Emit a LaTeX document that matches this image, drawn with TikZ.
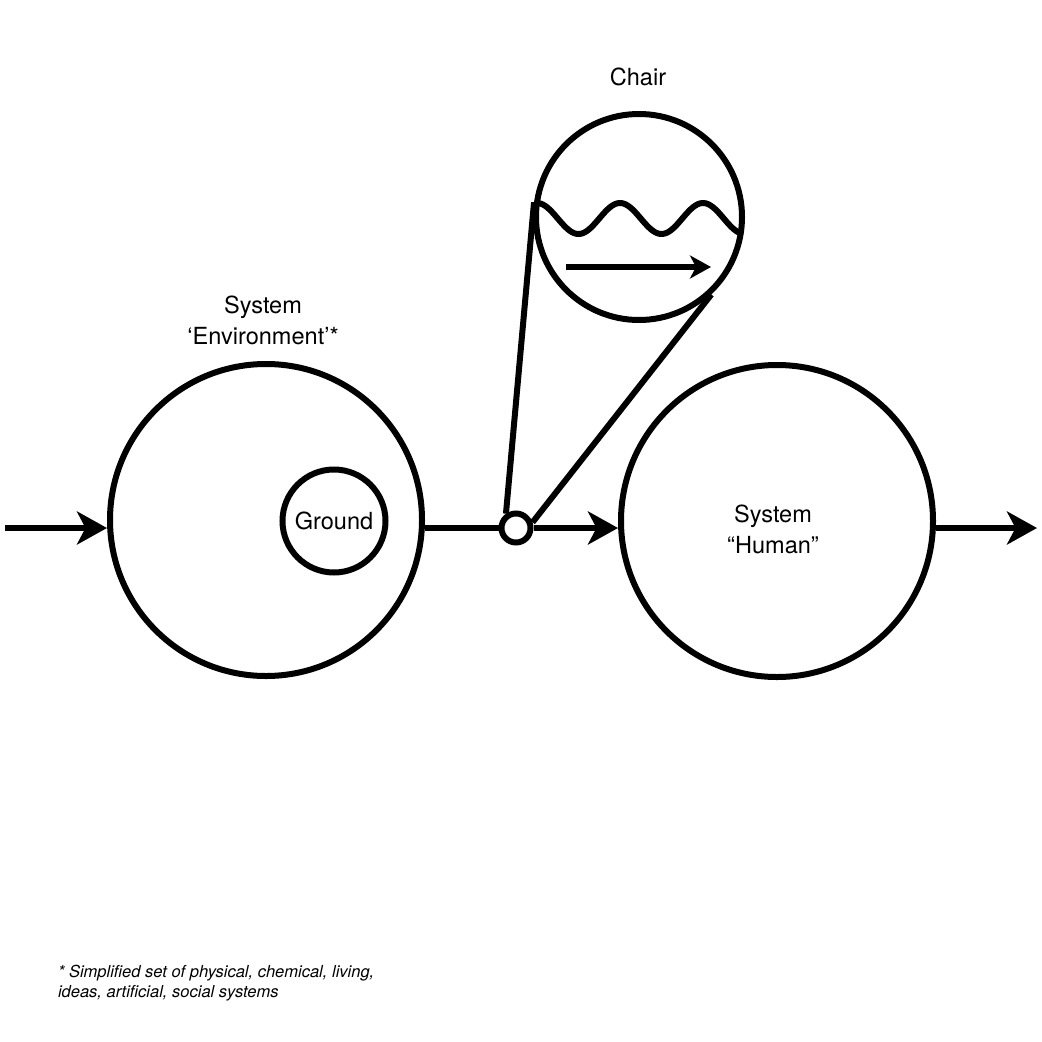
\documentclass[tikz,border=0pt]{standalone}
\usepackage{fontspec}
\setmainfont{TeX Gyre Heros}
\usetikzlibrary{arrows.meta,positioning}

\begin{document}
\begin{tikzpicture}[
    x=0.2mm, y=-0.2mm,
    line width=1.2mm,
    ring/.style={draw, circle, inner sep=0pt},
    txt/.style={align=center, font=\fontsize{13.4}{17.6}\selectfont},
    flow/.style={-{Stealth[length=6mm, width=6.6mm, inset=1.7mm]}},
    drift/.style={-{Stealth[length=4.2mm, width=4.6mm, inset=1.2mm]}}
]
    \useasboundingbox (0,0) rectangle (1042,1042);

    % Systems
    \node[ring, minimum size=62.4mm] (env) at (266,520) {};
    \node[ring, minimum size=20.6mm, txt] (ground) at (334,521) {Ground};
    \node[ring, minimum size=62.4mm] (human) at (777,521) {};
    \node[txt] (envlabel) at (263,320) {System\\`Environment'*};
    \node[txt] (humanlabel) at (773,529) {System\\``Human''};

    % Chair and its hub
    \node[ring, minimum size=5.8mm] (hub) at (516,528) {};
    \node[ring, minimum size=41.2mm] (chair) at (639,217) {};
    \node[txt] (chairlabel) at (638,77) {Chair};

    % Flow line
    \coordinate (in) at (5,528);
    \coordinate (out) at (1037,528);
    \draw[flow] (in) -- (in -| env.west);
    \draw (hub -| env.east) -- (hub);
    \draw[flow] (hub) -- (hub -| human.west);
    \draw[flow] (hub -| human.east) -- (out);

    % Magnifier lines
    \draw (hub.125) -- (chair.172);
    \draw (hub.19) -- (chair.-47);

    % Wave and motion inside the chair
    \draw plot[domain=537:741, samples=100] (\x, {218.5-15.5*cos(4.337*(\x-537))});
    \draw[drift] (566,267) -- (711,267);

    % Footnote
    \node[anchor=north west, align=left, inner sep=0pt,
          font=\fontsize{9.4}{11.6}\selectfont\itshape] (note) at (55,962)
        {* Simplified set of physical, chemical, living,\\ideas, artificial, social systems};
\end{tikzpicture}
\end{document}
